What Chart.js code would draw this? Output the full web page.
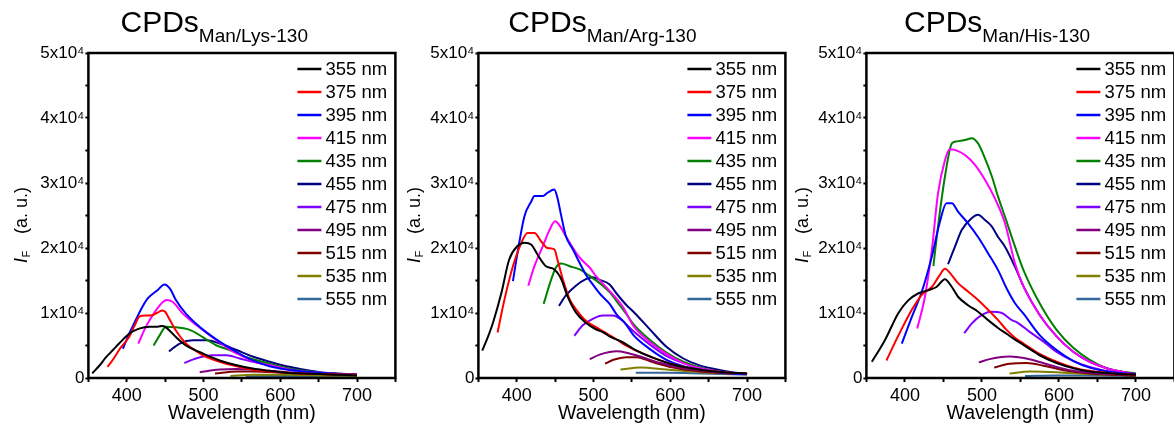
<!DOCTYPE html>
<html>
<head>
<meta charset="utf-8">
<script src="https://cdn.jsdelivr.net/npm/chart.js@4.4.1/dist/chart.umd.min.js"></script>
<style>
html,body{margin:0;padding:0;background:#fff;overflow:hidden;width:1174px;height:427px;position:relative;}
canvas{position:absolute;top:0;}
</style>
</head>
<body>
<canvas id="c1" width="400" height="427" style="left:0px"></canvas>
<canvas id="c2" width="400" height="427" style="left:390px"></canvas>
<canvas id="c3" width="400" height="427" style="left:778px"></canvas>
<script>
// ---- labels ----
const excitation = ['355 nm','375 nm','395 nm','415 nm','435 nm','455 nm','475 nm','495 nm','515 nm','535 nm','555 nm'];
const colors = ['#000000','#FF0000','#0000FF','#FF00FF','#008000','#000080','#8000FF','#800080','#800000','#808000','#336699'];
const xTickLabels = [400,500,600,700];
const yTickLabels = ['0','1x10⁴','2x10⁴','3x10⁴','4x10⁴','5x10⁴']; // intensity in units of 10^4
const titlesMain = ['CPDs','CPDs','CPDs'];
const titlesSub = ['Man/Lys-130','Man/Arg-130','Man/His-130'];
const xTitle = 'Wavelength (nm)';

// ---- CPDs Man/Lys-130 : [wavelength nm, intensity x10^4] ----
const lys355 = [[355,0.07],[365,0.2],[373,0.32],[382,0.43],[390,0.53],[403,0.68],[416,0.76],[430,0.79],[440,0.79],[447,0.80],[453,0.76],[464,0.63],[477,0.50],[489,0.43],[499,0.38],[510,0.32],[521,0.27],[542,0.20],[564,0.145],[586,0.11],[608,0.08],[630,0.07],[651,0.06],[675,0.05],[700,0.04]];
const lys375 = [[375,0.17],[383,0.30],[391,0.45],[403,0.63],[410,0.80],[417,0.95],[425,0.96],[434,0.97],[441,1.01],[446,1.04],[450,1.02],[454,0.94],[464,0.73],[477,0.53],[488,0.43],[499,0.35],[521,0.25],[543,0.18],[564,0.13],[586,0.10],[608,0.08],[651,0.06],[700,0.05]];
const lys395 = [[395,0.45],[403,0.68],[410,0.85],[417,1.02],[427,1.22],[440,1.35],[449,1.44],[456,1.38],[464,1.20],[477,0.99],[490,0.84],[503,0.71],[521,0.56],[543,0.40],[564,0.27],[586,0.18],[608,0.13],[630,0.10],[651,0.08],[675,0.06],[700,0.05]];
const lys415 = [[415,0.53],[425,0.79],[438,1.04],[447,1.17],[452,1.20],[460,1.17],[473,0.99],[486,0.86],[499,0.74],[517,0.58],[530,0.47],[543,0.38],[564,0.26],[586,0.20],[608,0.14],[630,0.10],[651,0.08],[675,0.06],[700,0.05]];
const lys435 = [[435,0.50],[443,0.66],[451,0.79],[464,0.78],[482,0.74],[499,0.63],[517,0.50],[534,0.43],[556,0.32],[586,0.22],[608,0.155],[630,0.11],[651,0.08],[675,0.06],[700,0.05]];
const lys455 = [[455,0.41],[469,0.53],[486,0.58],[504,0.58],[521,0.53],[543,0.43],[564,0.33],[586,0.25],[608,0.18],[630,0.13],[651,0.09],[675,0.07],[700,0.05]];
const lys475 = [[475,0.23],[490,0.30],[512,0.35],[530,0.35],[547,0.30],[564,0.25],[586,0.20],[608,0.145],[630,0.11],[651,0.08],[675,0.06],[700,0.05]];
const lys495 = [[495,0.09],[521,0.13],[543,0.14],[564,0.13],[586,0.11],[608,0.09],[651,0.07],[700,0.05]];
const lys515 = [[515,0.07],[543,0.10],[564,0.10],[608,0.08],[651,0.06],[700,0.05]];
const lys535 = [[535,0.03],[564,0.05],[608,0.05],[651,0.04],[700,0.03]];
const lys555 = [[555,0.025],[586,0.03],[630,0.03],[700,0.03]];

// ---- CPDs Man/Arg-130 ----
const arg355 = [[355,0.42],[362,0.62],[369,0.85],[380,1.31],[390,1.82],[401,2.03],[410,2.08],[419,2.05],[427,1.90],[438,1.72],[449,1.67],[458,1.52],[466,1.26],[477,1.01],[490,0.85],[503,0.75],[513,0.70],[521,0.64],[538,0.55],[556,0.42],[578,0.31],[600,0.22],[621,0.16],[643,0.12],[670,0.09],[700,0.07]];
const arg375 = [[375,0.70],[384,1.21],[395,1.72],[406,2.08],[414,2.23],[423,2.23],[432,2.10],[440,2.00],[449,1.98],[453,1.82],[460,1.52],[469,1.21],[477,1.06],[490,0.88],[508,0.75],[529,0.60],[542,0.50],[556,0.42],[578,0.31],[600,0.22],[621,0.16],[643,0.12],[670,0.09],[700,0.07]];
const arg395 = [[395,1.49],[401,1.93],[410,2.49],[419,2.72],[423,2.80],[434,2.80],[440,2.85],[449,2.90],[453,2.77],[458,2.49],[464,2.18],[473,1.98],[482,1.77],[490,1.59],[499,1.44],[508,1.30],[521,1.14],[530,0.98],[542,0.83],[552,0.66],[574,0.44],[595,0.28],[617,0.18],[639,0.13],[670,0.08],[700,0.06]];
const arg415 = [[415,1.42],[423,1.72],[434,2.03],[442,2.26],[450,2.41],[455,2.36],[464,2.18],[477,1.93],[486,1.80],[495,1.70],[503,1.57],[521,1.34],[538,1.10],[552,0.80],[574,0.55],[595,0.37],[617,0.23],[639,0.15],[670,0.09],[700,0.06]];
const arg435 = [[435,1.14],[445,1.52],[451,1.70],[458,1.76],[469,1.72],[482,1.67],[495,1.57],[508,1.46],[521,1.32],[534,1.12],[543,0.98],[552,0.83],[574,0.58],[595,0.39],[617,0.25],[639,0.16],[670,0.09],[700,0.06]];
const arg455 = [[455,1.11],[464,1.27],[477,1.42],[490,1.52],[499,1.55],[508,1.51],[521,1.44],[530,1.30],[543,1.12],[552,1.02],[574,0.74],[595,0.48],[617,0.30],[639,0.19],[661,0.13],[680,0.09],[700,0.06]];
const arg475 = [[475,0.65],[486,0.81],[499,0.91],[512,0.96],[525,0.96],[538,0.88],[543,0.82],[552,0.72],[574,0.51],[595,0.34],[617,0.23],[639,0.15],[670,0.09],[700,0.06]];
const arg495 = [[495,0.29],[508,0.36],[521,0.40],[530,0.41],[543,0.39],[561,0.33],[587,0.23],[617,0.15],[661,0.09],[700,0.06]];
const arg515 = [[515,0.22],[526,0.28],[543,0.32],[556,0.32],[578,0.24],[604,0.16],[639,0.10],[700,0.06]];
const arg535 = [[535,0.13],[561,0.16],[595,0.13],[639,0.09],[700,0.06]];
const arg555 = [[555,0.08],[595,0.08],[639,0.07],[700,0.05]];

// ---- CPDs Man/His-130 ----
const his355 = [[357,0.25],[365,0.40],[374,0.58],[383,0.80],[391,0.99],[404,1.19],[417,1.30],[430,1.35],[441,1.40],[452,1.52],[461,1.40],[469,1.25],[482,1.12],[495,1.02],[508,0.89],[521,0.77],[532,0.68],[543,0.59],[554,0.51],[575,0.35],[597,0.23],[619,0.15],[640,0.10],[670,0.07],[700,0.05]];
const his375 = [[376,0.27],[391,0.64],[409,1.05],[422,1.28],[435,1.40],[445,1.58],[452,1.68],[461,1.58],[469,1.46],[482,1.33],[495,1.20],[508,1.05],[521,0.89],[532,0.74],[543,0.62],[554,0.53],[575,0.37],[597,0.25],[619,0.16],[640,0.11],[670,0.07],[700,0.05]];
const his395 = [[396,0.53],[409,0.94],[422,1.33],[435,1.87],[445,2.38],[454,2.69],[461,2.69],[469,2.56],[482,2.38],[495,2.17],[508,1.92],[521,1.66],[532,1.38],[543,1.15],[554,0.99],[575,0.66],[597,0.43],[619,0.26],[640,0.16],[670,0.09],[700,0.06]];
const his415 = [[416,0.76],[426,1.25],[435,1.97],[443,2.84],[452,3.35],[458,3.52],[465,3.51],[478,3.43],[491,3.28],[504,3.05],[517,2.76],[530,2.38],[543,1.76],[554,1.41],[575,0.97],[597,0.64],[619,0.40],[640,0.25],[662,0.15],[680,0.10],[700,0.06]];
const his435 = [[437,1.72],[443,2.33],[452,3.10],[461,3.61],[467,3.64],[478,3.66],[487,3.69],[495,3.61],[504,3.38],[513,3.10],[521,2.79],[530,2.48],[543,2.02],[554,1.66],[575,1.15],[597,0.74],[619,0.46],[640,0.28],[662,0.15],[680,0.10],[700,0.07]];
const his455 = [[456,1.75],[465,2.02],[474,2.28],[487,2.46],[495,2.51],[504,2.43],[513,2.33],[521,2.17],[530,2.02],[543,1.71],[554,1.41],[575,0.97],[597,0.64],[619,0.40],[640,0.25],[662,0.15],[680,0.10],[700,0.06]];
const his475 = [[477,0.69],[487,0.84],[500,0.97],[512,1.02],[526,1.00],[539,0.89],[545,0.86],[562,0.71],[580,0.56],[597,0.40],[619,0.26],[640,0.17],[670,0.09],[700,0.06]];
const his495 = [[496,0.24],[510,0.29],[523,0.32],[536,0.33],[562,0.29],[588,0.20],[619,0.11],[662,0.06],[700,0.05]];
const his515 = [[516,0.16],[536,0.22],[558,0.23],[580,0.19],[606,0.12],[640,0.07],[700,0.04]];
const his535 = [[536,0.07],[562,0.10],[597,0.09],[640,0.06],[700,0.04]];
const his555 = [[556,0.03],[597,0.04],[640,0.04],[700,0.03]];

const panels = [
  {id:'c1', series:[lys355,lys375,lys395,lys415,lys435,lys455,lys475,lys495,lys515,lys535,lys555], titleX:120.5, yTitleX:27, plotW:307},
  {id:'c2', series:[arg355,arg375,arg395,arg415,arg435,arg455,arg475,arg495,arg515,arg535,arg555], titleX:118.3, yTitleX:30, plotW:307},
  {id:'c3', series:[his355,his375,his395,his415,his435,his455,his475,his495,his515,his535,his555], titleX:126, yTitleX:30, plotW:308}
];

const FONT = '"Liberation Sans", Arial, Helvetica, sans-serif';
Chart.defaults.font.family = FONT;
Chart.defaults.color = '#000';

const decor = {
  id:'decor',
  afterDraw(chart, args, opts){
    const ctx = chart.ctx;
    const {left,right,top,bottom} = chart.chartArea;
    ctx.save();
    // frame
    ctx.strokeStyle = '#000';
    ctx.lineWidth = 2.5;
    ctx.strokeRect(left, top, right-left, bottom-top);
    // legend
    ctx.font = '18.5px ' + FONT;
    ctx.textBaseline = 'middle';
    ctx.textAlign = 'left';
    chart.data.datasets.forEach((ds,i)=>{
      const y = top + 16 + i*23;
      ctx.strokeStyle = ds.borderColor;
      ctx.lineWidth = 2.5;
      ctx.beginPath();
      ctx.moveTo(right-98, y);
      ctx.lineTo(right-74, y);
      ctx.stroke();
      ctx.fillStyle = '#000';
      ctx.fillText(ds.label, right-70, y+1);
    });
    // title
    ctx.textBaseline = 'alphabetic';
    ctx.fillStyle = '#000';
    ctx.font = '30px ' + FONT;
    ctx.fillText(opts.main, opts.titleX, 32);
    const w = ctx.measureText(opts.main).width;
    ctx.font = '19px ' + FONT;
    ctx.fillText(opts.sub, opts.titleX + w, 42);
    // y title
    ctx.translate(opts.yTitleX, 263);
    ctx.rotate(-Math.PI/2);
    ctx.font = 'italic 18px ' + FONT;
    ctx.fillText('I', 0, 0);
    const wi = ctx.measureText('I').width;
    ctx.font = '11px ' + FONT;
    ctx.fillText('F', wi + 0.5, 3);
    ctx.font = '18px ' + FONT;
    ctx.fillText('(a. u.)', 29, 0);
    ctx.restore();
  }
};

panels.forEach((p, k)=>{
  const padRight = 400 - 88.4 - p.plotW;
  new Chart(document.getElementById(p.id), {
    type:'line',
    data:{
      datasets: p.series.map((s,i)=>({
        label: excitation[i],
        data: s.map(pt=>({x:pt[0], y:pt[1]})),
        borderColor: colors[i],
        borderWidth: 2,
        pointRadius: 0,
        fill: false,
        cubicInterpolationMode: 'monotone',
        tension: 0.3
      }))
    },
    options:{
      responsive:false,
      animation:false,
      devicePixelRatio:1,
      layout:{padding:{left:0, right:padRight, top:53, bottom:0}},
      plugins:{
        legend:{display:false},
        tooltip:{enabled:false},
        decor:{main:titlesMain[k], sub:titlesSub[k], titleX:p.titleX, yTitleX:p.yTitleX}
      },
      scales:{
        x:{
          type:'linear', min:350, max:750,
          ticks:{stepSize:50, autoSkip:false, maxRotation:0, padding:3, color:'#000',
            font:{size:18, family:FONT},
            callback:(v)=> xTickLabels.includes(v) ? String(v) : ''},
          grid:{drawOnChartArea:false, drawTicks:true, tickLength:4, tickWidth:2, color:'#000'},
          border:{display:false},
          title:{display:true, text:xTitle, color:'#000', font:{size:19.5, family:FONT}, padding:{top:0, bottom:2}},
          afterFit:(s)=>{ s.height = 49; }
        },
        y:{
          min:0, max:5,
          ticks:{stepSize:0.5, autoSkip:false, padding:1, color:'#000',
            font:{size:17, family:FONT},
            callback:(v)=> Number.isInteger(v) ? yTickLabels[v] : ''},
          grid:{drawOnChartArea:false, drawTicks:true, tickLength:3, tickWidth:2, color:'#000'},
          border:{display:false},
          afterFit:(s)=>{ s.width = 88.4; }
        }
      }
    },
    plugins:[decor]
  });
});
</script>
</body>
</html>
